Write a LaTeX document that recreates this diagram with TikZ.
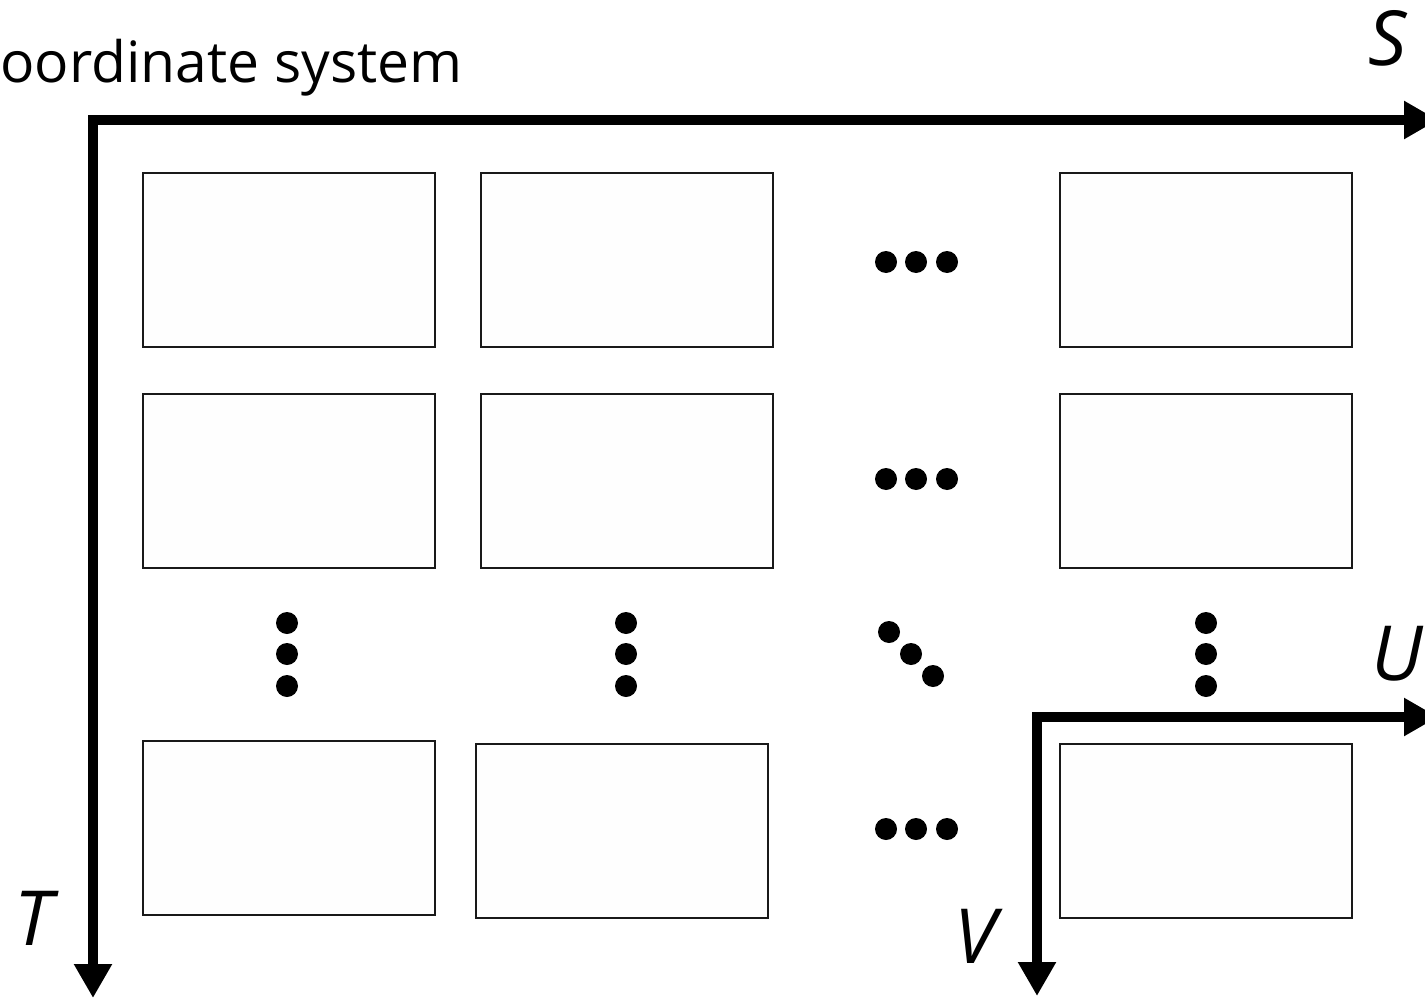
\documentclass[tikz,border=0pt]{standalone}
\usepackage{fontspec}
\setmainfont{Open Sans}
\usetikzlibrary{arrows.meta}

\begin{document}
\begin{tikzpicture}[x=1pt,y=-1pt,
  cell/.style={draw=black!90,line width=1.8pt,fill=black!0.5,minimum width=292pt,minimum height=174pt,inner sep=0pt,anchor=north west},
  axis/.style={line width=10.5pt,-{Triangle[length=34pt,width=36pt]}},
  axlabel/.style={font=\fontsize{76}{76}\selectfont\itshape,inner sep=0pt},
  dot/.style={fill=black},
]
\useasboundingbox (0,0) rectangle (1425,998);

% title
\node[anchor=base west,inner sep=0pt,font=\fontsize{57}{59}\selectfont] (title) at (0,82) {oordinate system};

% cells of the grid
\node[cell] (c11) at (142,172) {};
\node[cell] (c12) at (480,172) {};
\node[cell] (c14) at (1059,172) {};
\node[cell] (c21) at (142,393) {};
\node[cell] (c22) at (480,393) {};
\node[cell] (c24) at (1059,393) {};
\node[cell] (c31) at (142,740) {};
\node[cell] (c32) at (475,743) {};
\node[cell] (c34) at (1059,743) {};

% horizontal ellipses
\foreach \y in {262,479,829}
  \foreach \x in {886,916,947}
    \fill[dot] (\x,\y) circle (11);
% vertical ellipses
\foreach \x in {287,626,1206}
  \foreach \y in {623,654,686}
    \fill[dot] (\x,\y) circle (11);
% diagonal ellipsis
\foreach \x/\y in {889/632,911/654,933/676}
  \fill[dot] (\x,\y) circle (11);

% global axes S, T
\coordinate (o1) at (93,120);
\coordinate (s1) at (1438,120);
\coordinate (t1) at (93,998);
\draw[axis] ([xshift=-5pt]o1) -- (s1);
\draw[axis] ([yshift=-5pt]o1) -- (t1);
\node[axlabel] (S) at (1388,38) {S};
\node[axlabel] (T) at (33,918) {T};

% local axes U, V
\coordinate (o2) at (1037,717);
\coordinate (u2) at (1438,717);
\coordinate (v2) at (1037,996);
\draw[axis] ([xshift=-5pt]o2) -- (u2);
\draw[axis] ([yshift=-5pt]o2) -- (v2);
\node[axlabel] (U) at (1397,654) {U};
\node[axlabel] (V) at (975,936) {V};
\end{tikzpicture}
\end{document}
